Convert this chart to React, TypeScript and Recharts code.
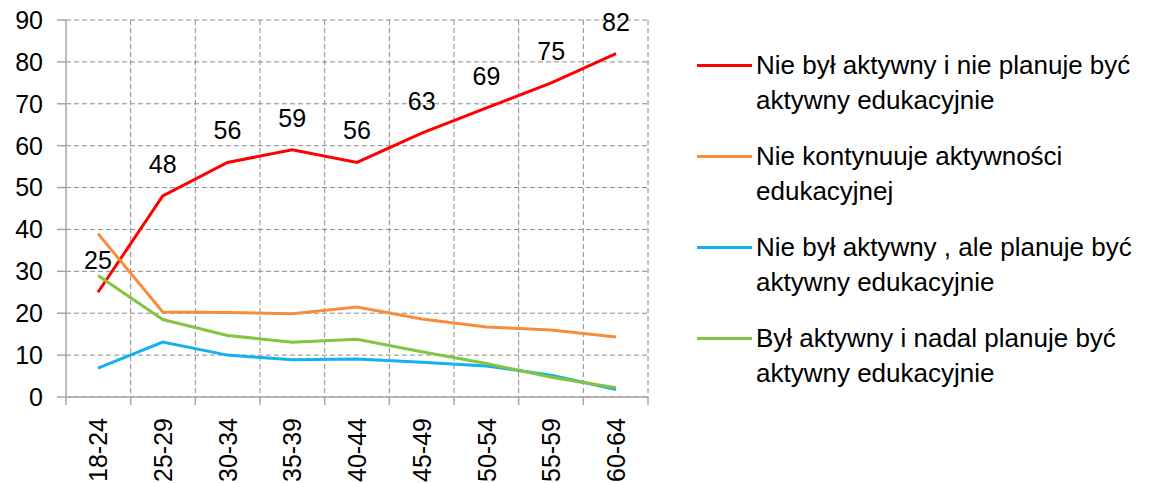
import React from 'react';
import { LineChart, Line, XAxis, YAxis, CartesianGrid, Legend, LabelList, usePlotArea } from 'recharts';

const categories = ['18-24', '25-29', '30-34', '35-39', '40-44', '45-49', '50-54', '55-59', '60-64'];
const notActiveNoPlan = [25, 48, 56, 59, 56, 63, 69, 75, 82];
const notContinuing = [39, 20.3, 20.2, 19.9, 21.5, 18.6, 16.7, 16, 14.3];
const notActiveButPlans = [6.9, 13.1, 10, 8.9, 9.1, 8.3, 7.4, 5.2, 1.8];
const activeStillPlans = [29, 18.5, 14.7, 13.1, 13.8, 10.8, 8, 4.7, 2.2];
const yTicks = [0, 10, 20, 30, 40, 50, 60, 70, 80, 90];

const series = [
  { key: 'a', name: 'Nie był aktywny i nie planuje być aktywny edukacyjnie', color: '#ff0000', values: notActiveNoPlan },
  { key: 'b', name: 'Nie kontynuuje aktywności edukacyjnej', color: '#f98c3c', values: notContinuing },
  { key: 'c', name: 'Nie był aktywny , ale planuje być aktywny edukacyjnie', color: '#10b2f0', values: notActiveButPlans },
  { key: 'd', name: 'Był aktywny i nadal planuje być aktywny edukacyjnie', color: '#84c441', values: activeStillPlans },
];

const legendLines = [
  ['Nie był aktywny i nie planuje być', 'aktywny edukacyjnie'],
  ['Nie kontynuuje aktywności', 'edukacyjnej'],
  ['Nie był aktywny , ale planuje być', 'aktywny edukacyjnie'],
  ['Był aktywny i nadal planuje być', 'aktywny edukacyjnie'],
];

const data = categories.map((age, i) => {
  const row: Record<string, string | number> = { age };
  series.forEach(s => { row[s.key] = s.values[i]; });
  return row;
});

const FONT = '"Liberation Sans", Arial, sans-serif';
const AXIS = '#a6a6a6';

const AgeTick = (props: any) => {
  const { x, y, payload } = props;
  return (
    <text
      transform={`translate(${x},${y + 13}) rotate(-90)`}
      textAnchor="end"
      dy="0.36em"
      fontSize={25}
      fontFamily={FONT}
      fill="#000"
    >
      {payload.value}
    </text>
  );
};

// small marks below the x axis at the category boundaries
const BoundaryTicks = () => {
  const area = usePlotArea();
  if (!area) return null;
  const bottom = area.y + area.height;
  return (
    <g>
      {categories.concat(['']).map((_, i) => {
        const x = area.x + (i * area.width) / categories.length;
        return <line key={i} x1={x} x2={x} y1={bottom} y2={bottom + 8} stroke={AXIS} strokeWidth={1.5} />;
      })}
    </g>
  );
};

const LegendContent = () => (
  <div style={{ fontFamily: FONT, fontSize: 26, color: '#000' }}>
    {series.map((s, i) => (
      <div key={s.key} style={{ display: 'flex', alignItems: 'flex-start', marginBottom: 21 }}>
        <div style={{ width: 55, height: 3, background: s.color, marginTop: 16, marginRight: 4, flexShrink: 0 }} />
        <div style={{ lineHeight: '35px', whiteSpace: 'nowrap' }}>
          <div>{legendLines[i][0]}</div>
          <div>{legendLines[i][1]}</div>
        </div>
      </div>
    ))}
  </div>
);

export default function App() {
  return (
    <div style={{ position: 'absolute', left: 0, top: 0, background: '#fff' }}>
      <LineChart width={1149} height={483} data={data} margin={{ top: 20, right: 501, bottom: 0, left: 0 }}>
        <CartesianGrid
          stroke="#8c8c8c"
          strokeDasharray="5 3"
          verticalCoordinatesGenerator={({ offset }: any) =>
            categories.map((_, i) => offset.left + ((i + 1) * offset.width) / categories.length)
          }
        />
        <XAxis
          dataKey="age"
          height={86}
          padding={{ left: 32, right: 32 }}
          axisLine={{ stroke: AXIS, strokeWidth: 1.5 }}
          tickLine={false}
          tick={<AgeTick />}
          interval={0}
        />
        <YAxis
          width={66}
          domain={[0, 90]}
          ticks={yTicks}
          interval={0}
          axisLine={{ stroke: AXIS, strokeWidth: 1.5 }}
          tickLine={{ stroke: AXIS, strokeWidth: 1.5 }}
          tickSize={9}
          tickMargin={14}
          tick={{ fontSize: 25, fontFamily: FONT, fill: '#000' }}
        />
        <BoundaryTicks />
        <Legend
          layout="vertical"
          align="center"
          verticalAlign="middle"
          content={<LegendContent />}
          wrapperStyle={{ left: 697, top: 48, width: 452, height: 'auto' }}
        />
        {series.map(s => (
          <Line
            key={s.key}
            type="linear"
            dataKey={s.key}
            name={s.name}
            stroke={s.color}
            strokeWidth={3}
            dot={false}
            isAnimationActive={false}
          >
            {s.key === 'a' && (
              <LabelList
                dataKey="a"
                position="top"
                offset={23}
                fontSize={25}
                fontFamily={FONT}
                fill="#000"
                formatter={(v: any) => Math.round(Number(v))}
              />
            )}
          </Line>
        ))}
      </LineChart>
    </div>
  );
}
